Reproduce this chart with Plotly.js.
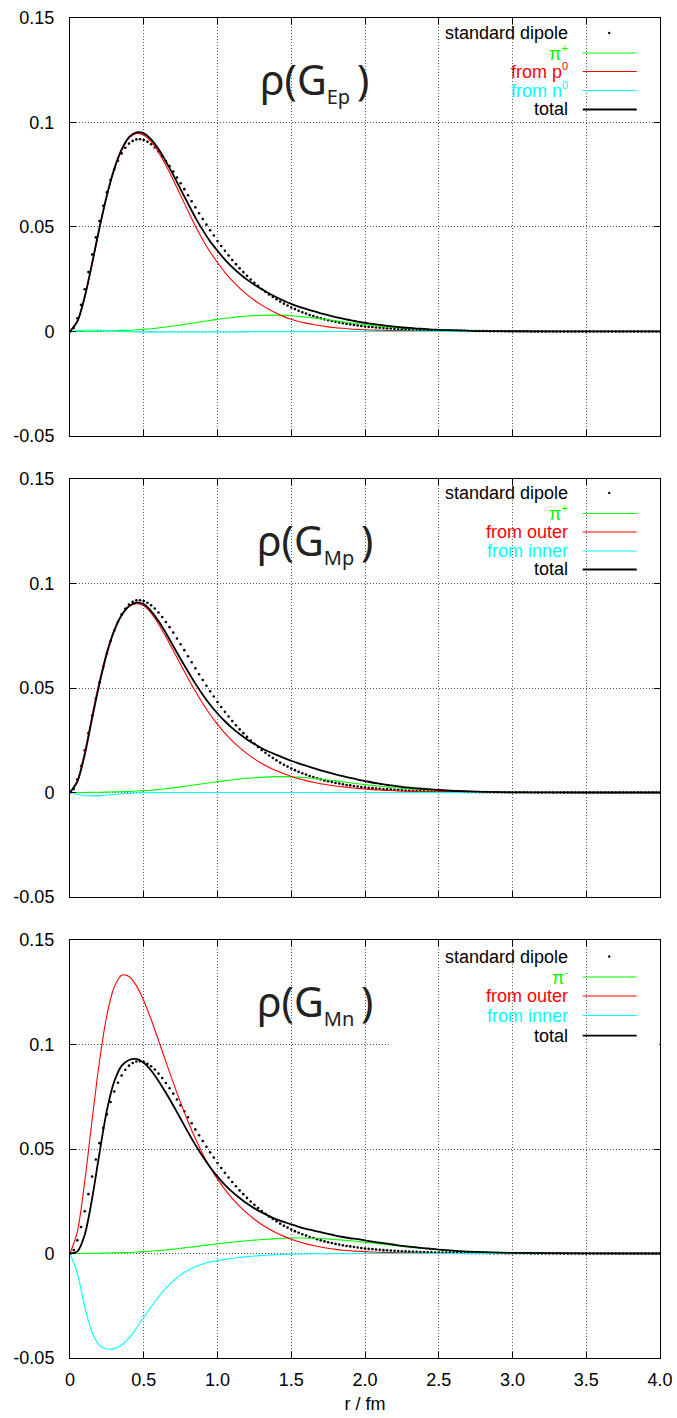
<!DOCTYPE html>
<html><head><meta charset="utf-8">
<script src="https://cdn.plot.ly/plotly-3.0.1.min.js"></script>
<style>body{margin:0;background:#fff}</style>
</head><body>
<div id="chart" style="width:677px;height:1418px"></div>
<script>
// ---------- data ----------
const rLine = [0,0.05,0.1,0.15,0.2,0.25,0.3,0.35,0.4,0.45,
  0.5,0.55,0.6,0.65,0.7,0.75,0.8,0.85,0.9,0.95,
  1.0,1.05,1.1,1.15,1.2,1.25,1.3,1.35,1.4,1.45,
  1.5,1.55,1.6,1.65,1.7,1.75,1.8,1.85,1.9,1.95,
  2.0,2.05,2.1,2.15,2.2,2.25,2.3,2.35,2.4,2.45,
  2.5,2.75,3.0,3.5,4.0];

const dotStep = 0.025; // r spacing of the standard-dipole points
const dipole = [0,0.0017,0.0063,0.0127,0.0202,0.0284,0.0368,0.0450,0.0528,0.0601,
  0.0666,0.0725,0.0775,0.0817,0.0852,0.0879,0.0899,0.0912,0.0919,0.0920,
  0.0916,0.0908,0.0896,0.0880,0.0861,0.0840,0.0816,0.0791,0.0765,0.0737,
  0.0709,0.0681,0.0652,0.0623,0.0594,0.0566,0.0538,0.0511,0.0484,0.0459,
  0.0433,0.0409,0.0386,0.0364,0.0342,0.0322,0.0302,0.0284,0.0266,0.0249,
  0.0233,0.0218,0.0203,0.0190,0.0177,0.0165,0.0154,0.0143,0.0133,0.0124,
  0.0115,0.0107,0.0099,0.0092,0.0086,0.0079,0.0074,0.0068,0.0063,0.0058,
  0.0054,0.0050,0.0046,0.0043,0.0039,0.0036,0.0034,0.0031,0.0029,0.0026,
  0.0024,0.0022,0.0021,0.0019,0.0018,0.0016,0.0015,0.0014,0.0013,0.0012,
  0.0011,0.0010,0.0009,0.0008,0.0008,0.0007,0.0007,0.0006,0.0006,0.0005,
  0.0005,0.0004,0.0004,0.0004,0.0003,0.0003,0.0003,0.0003,0.0002,0.0002,
  0.0002,0.0002,0.0002,0.0002,0.0001,0.0001,0.0001,0.0001,0.0001,0.0001,
  0.0001,0.0001,0.0001,0.0001,0.0001,0,0,0,0,0,
  0,0,0,0,0,0,0,0,0,0,
  0,0,0,0,0,0,0,0,0,0,
  0,0,0,0,0,0,0,0,0,0,
  0];

// Panel 1: G_Ep
const pionEp = [0,0,0.0001,0.0001,0.0002,0.0003,0.0004,0.0005,0.0006,0.0008,
  0.0010,0.0013,0.0017,0.0021,0.0026,0.0031,0.0037,0.0042,0.0048,0.0053,
  0.0058,0.0063,0.0067,0.0071,0.0074,0.0076,0.0077,0.0078,0.0078,0.0077,
  0.0075,0.0072,0.0069,0.0065,0.0061,0.0056,0.0051,0.0046,0.0042,0.0037,
  0.0033,0.0029,0.0025,0.0022,0.0019,0.0016,0.0014,0.0012,0.0010,0.0008,
  0.0007,0.0002,0.0001,0,0];
const outerEp = [0,0.0045,0.0160,0.0320,0.0490,0.0645,0.0772,0.0866,0.0925,0.0947,
  0.0940,0.0908,0.0858,0.0795,0.0725,0.0651,0.0577,0.0505,0.0439,0.0380,
  0.0330,0.0283,0.0243,0.0207,0.0176,0.0149,0.0126,0.0105,0.0087,0.0071,
  0.0058,0.0048,0.0040,0.0033,0.0027,0.0022,0.0018,0.0015,0.0012,0.0010,
  0.0008,0.0007,0.0006,0.0005,0.0004,0.0003,0.0003,0.0002,0.0002,0.0001,
  0.0001,0,0,0,0];
const innerEp = [0,0.0004,0.0006,0.0007,0.0006,0.0004,0.0002,0,-0.0001,-0.0002,
  -0.0002,-0.0002,-0.0002,-0.0002,-0.0002,-0.0002,-0.0002,-0.0002,-0.0002,-0.0002,
  -0.0002,-0.0002,-0.0002,-0.0002,-0.0002,-0.0001,-0.0001,-0.0001,-0.0001,-0.0001,
  -0.0001,-0.0001,-0.0001,-0.0001,-0.0001,0,0,0,0,0,
  0,0,0,0,0,0,0,0,0,0,
  0,0,0,0,0];
const totalEp = [0,0.0049,0.0167,0.0328,0.0498,0.0652,0.0778,0.0871,0.0930,0.0953,
  0.0948,0.0919,0.0873,0.0814,0.0749,0.0680,0.0612,0.0545,0.0485,0.0431,
  0.0386,0.0344,0.0308,0.0276,0.0248,0.0224,0.0202,0.0182,0.0164,0.0147,
  0.0132,0.0119,0.0108,0.0097,0.0087,0.0078,0.0069,0.0061,0.0054,0.0047,
  0.0041,0.0036,0.0031,0.0027,0.0023,0.0019,0.0017,0.0014,0.0012,0.0009,
  0.0008,0.0002,0.0001,0,0];

// Panel 2: G_Mp
const pionMp = [0,0,0,0.0001,0.0001,0.0002,0.0003,0.0004,0.0005,0.0007,
  0.0009,0.0011,0.0014,0.0018,0.0022,0.0027,0.0032,0.0037,0.0042,0.0047,
  0.0052,0.0057,0.0061,0.0065,0.0068,0.0071,0.0073,0.0075,0.0076,0.0076,
  0.0075,0.0073,0.0071,0.0068,0.0064,0.0060,0.0056,0.0051,0.0047,0.0042,
  0.0038,0.0034,0.0030,0.0026,0.0023,0.0020,0.0017,0.0015,0.0013,0.0011,
  0.0009,0.0003,0.0001,0,0];
const outerMp = [0,0.0060,0.0195,0.0370,0.0535,0.0675,0.0780,0.0850,0.0890,0.0903,
  0.0893,0.0858,0.0806,0.0745,0.0679,0.0612,0.0547,0.0484,0.0426,0.0373,
  0.0326,0.0284,0.0247,0.0215,0.0186,0.0161,0.0139,0.0120,0.0104,0.0090,
  0.0077,0.0066,0.0057,0.0049,0.0042,0.0036,0.0031,0.0027,0.0023,0.0020,
  0.0017,0.0014,0.0012,0.0010,0.0009,0.0007,0.0006,0.0005,0.0004,0.0004,
  0.0003,0.0001,0,0,0];
const innerMp = [0,-0.0008,-0.0014,-0.0016,-0.0015,-0.0012,-0.0009,-0.0006,-0.0004,-0.0002,
  -0.0001,-0.0001,0,0,0,0,0,0,0,0,
  0,0,0,0,0,0,0,0,0,0,
  0,0,0,0,0,0,0,0,0,0,
  0,0,0,0,0,0,0,0,0,0,
  0,0,0,0,0];
const totalMp = [0,0.0052,0.0181,0.0355,0.0521,0.0665,0.0774,0.0848,0.0891,0.0908,
  0.0901,0.0868,0.0820,0.0763,0.0701,0.0639,0.0579,0.0521,0.0468,0.0420,
  0.0378,0.0341,0.0308,0.0280,0.0254,0.0232,0.0212,0.0195,0.0180,0.0166,
  0.0152,0.0139,0.0128,0.0117,0.0106,0.0096,0.0087,0.0078,0.0070,0.0062,
  0.0055,0.0048,0.0042,0.0036,0.0032,0.0027,0.0023,0.0020,0.0017,0.0015,
  0.0012,0.0004,0.0001,0,0];

// Panel 3: G_Mn
const pionMn = [0,0,0,0.0001,0.0001,0.0002,0.0003,0.0004,0.0005,0.0007,
  0.0009,0.0011,0.0014,0.0017,0.0021,0.0025,0.0029,0.0033,0.0038,0.0042,
  0.0046,0.0050,0.0054,0.0058,0.0061,0.0064,0.0067,0.0069,0.0071,0.0073,
  0.0074,0.0074,0.0074,0.0073,0.0072,0.0070,0.0067,0.0064,0.0061,0.0058,
  0.0054,0.0050,0.0046,0.0042,0.0038,0.0034,0.0030,0.0027,0.0024,0.0021,
  0.0018,0.0008,0.0003,0.0001,0];
const outerMn = [0,0.0105,0.0345,0.0640,0.0920,0.1140,0.1275,0.1332,0.1326,0.1282,
  0.1210,0.1120,0.1020,0.0918,0.0818,0.0722,0.0632,0.0550,0.0476,0.0412,
  0.0356,0.0307,0.0264,0.0226,0.0193,0.0164,0.0139,0.0117,0.0098,0.0082,
  0.0068,0.0056,0.0046,0.0038,0.0031,0.0025,0.0020,0.0016,0.0013,0.0011,
  0.0009,0.0007,0.0006,0.0005,0.0004,0.0003,0.0003,0.0002,0.0002,0.0001,
  0.0001,0,0,0,0];
const innerMn = [0,-0.0095,-0.0255,-0.0378,-0.0440,-0.0457,-0.0455,-0.0438,-0.0405,-0.0358,
  -0.0306,-0.0255,-0.0208,-0.0166,-0.0131,-0.0102,-0.0080,-0.0063,-0.0050,-0.0041,
  -0.0034,-0.0028,-0.0023,-0.0018,-0.0015,-0.0012,-0.0009,-0.0007,-0.0006,-0.0004,
  -0.0003,-0.0002,-0.0002,-0.0001,-0.0001,-0.0001,-0.0001,-0.0001,-0.0001,0,
  0,0,0,0,0,0,0,0,0,0,
  0,0,0,0,0];
const totalMn = [0,0.0010,0.0090,0.0263,0.0481,0.0685,0.0823,0.0898,0.0926,0.0931,
  0.0913,0.0876,0.0826,0.0769,0.0708,0.0645,0.0581,0.0520,0.0464,0.0413,
  0.0368,0.0329,0.0295,0.0266,0.0239,0.0216,0.0197,0.0179,0.0163,0.0151,
  0.0139,0.0128,0.0118,0.0110,0.0102,0.0094,0.0086,0.0079,0.0073,0.0069,
  0.0063,0.0057,0.0052,0.0047,0.0042,0.0037,0.0033,0.0029,0.0026,0.0022,
  0.0019,0.0008,0.0003,0.0001,0];

const xTickVals = [0,0.5,1,1.5,2,2.5,3,3.5,4];
const xTickText = ['0','0.5','1.0','1.5','2.0','2.5','3.0','3.5','4.0'];
const yTickVals = [-0.05,0,0.05,0.1,0.15];
const yTickText = ['-0.05','0','0.05','0.1','0.15'];

const titlesText = ['ρ(G<sub><span style="font-size:20px">Ep</span></sub>\u2009)',
                    'ρ(G<sub><span style="font-size:20px">Mp</span></sub>\u2009)',
                    'ρ(G<sub><span style="font-size:20px">Mn</span></sub>\u2009)'];
const SUP = s => '<sup><span style="font-size:11px">' + s + '</span></sup>';
const legendLabels = [
  ['standard dipole','π' + SUP('+'),'from p' + SUP('0'),'from n' + SUP('0'),'total'],
  ['standard dipole','π' + SUP('+'),'from outer','from inner','total'],
  ['standard dipole','π' + SUP('-'),'from outer','from inner','total']
];
const seriesByPanel = [
  [pionEp, outerEp, innerEp, totalEp],
  [pionMp, outerMp, innerMp, totalMp],
  [pionMn, outerMn, innerMn, totalMn]
];

// ---------- styling / layout ----------
const colors = ['#00ff00','#ff0000','#00ffff','#000000'];
const widths = [1.1, 1.1, 1.1, 1.8];
const rDots = dipole.map((_, i) => +(i * dotStep).toFixed(3));
const FONT = 'Liberation Sans, Arial, sans-serif';
const axisIds = [['x','y'],['x2','y2'],['x3','y3']];
const domains = [[0.6881,1],[0.3440,0.6560],[0,0.3119]];
const legendOffsetsPx = [[15,35,53.5,72.5,91.5],[14,34.5,53,72,90.5],[16.5,37,56,75.5,95.5]];
const pxPerUnitY = 418/0.2;

const traces = [];
const shapes = [];
const annotations = [];
const layout = {
  width: 677, height: 1418,
  margin: {l: 70, r: 17, t: 18, b: 60},
  paper_bgcolor: '#fff', plot_bgcolor: '#fff',
  showlegend: false,
  font: {family: FONT, size: 18, color: '#000'}
};

axisIds.forEach(([xa, ya], p) => {
  traces.push({x: rDots, y: dipole, xaxis: xa, yaxis: ya, type: 'scatter', mode: 'markers',
    marker: {size: 2.6, color: '#000'}, hoverinfo: 'skip'});
  seriesByPanel[p].forEach((s, k) => {
    traces.push({x: rLine, y: s, xaxis: xa, yaxis: ya, type: 'scatter', mode: 'lines',
      line: {color: colors[k], width: widths[k], shape: 'spline', smoothing: 0.8}, hoverinfo: 'skip'});
  });
  const xKey = xa === 'x' ? 'xaxis' : 'xaxis' + xa.slice(1);
  const yKey = ya === 'y' ? 'yaxis' : 'yaxis' + ya.slice(1);
  const last = p === 2;
  layout[xKey] = {
    domain: [0,1], anchor: ya, range: [0,4], tickmode: 'array', tickvals: xTickVals, ticktext: xTickText,
    showticklabels: last, ticks: 'inside', ticklen: 6, tickcolor: '#000', mirror: 'ticks',
    showline: true, linecolor: '#000', linewidth: 1, showgrid: true, gridcolor: '#555',
    griddash: '1px,2px', gridwidth: 1, zeroline: false, ticklabelstandoff: 5,
    tickfont: {family: FONT, size: 18, color: '#000'}
  };
  if (last) layout[xKey].title = {text: 'r / fm', font: {family: FONT, size: 18, color: '#000'}, standoff: 8};
  layout[yKey] = {
    domain: domains[p], anchor: xa, range: [-0.05,0.15], tickmode: 'array', tickvals: yTickVals, ticktext: yTickText,
    ticks: 'inside', ticklen: 6, tickcolor: '#000', mirror: 'ticks', showline: true, linecolor: '#000', linewidth: 1,
    showgrid: true, gridcolor: '#555', griddash: '1px,2px', gridwidth: 1, zeroline: false, ticklabelstandoff: 11,
    tickfont: {family: FONT, size: 18, color: '#000'}
  };
  // title inside panel
  annotations.push({xref: xa, yref: ya, x: 1.66, y: 0.1203, text: titlesText[p], showarrow: false,
    xanchor: 'center', yanchor: 'middle', font: {family: 'Noto Sans, DejaVu Sans, sans-serif', size: 41, color: '#222'}});
  // gnuplot-style key: text right aligned, sample on the right
  const labelColors = ['#000','#00ff00','#ff0000','#00ffff','#000'];
  legendOffsetsPx[p].forEach((off, k) => {
    const yv = 0.15 - off / pxPerUnitY;
    annotations.push({xref: xa, yref: ya, x: 3.39, y: yv, text: legendLabels[p][k], showarrow: false,
      xanchor: 'right', yanchor: 'middle', font: {family: FONT, size: 18, color: labelColors[k]}});
    if (k === 0) {
      shapes.push({type: 'circle', xref: xa, yref: ya, xsizemode: 'pixel', ysizemode: 'pixel',
        xanchor: 3.656, yanchor: yv, x0: -1.2, x1: 1.2, y0: -1.2, y1: 1.2, fillcolor: '#000', line: {width: 0}});
    } else {
      shapes.push({type: 'line', xref: xa, yref: ya, x0: 3.476, x1: 3.842, y0: yv, y1: yv,
        line: {color: colors[k-1], width: widths[k-1]}});
    }
  });
});
// the 0.1 grid line of the lower panel is interrupted on the right in the original
shapes.push({type: 'line', xref: 'x3', yref: 'y3', x0: 2.17, x1: 3.995, y0: 0.1, y1: 0.1,
  line: {color: '#fff', width: 2}, layer: 'above'});

layout.shapes = shapes;
layout.annotations = annotations;

Plotly.newPlot('chart', traces, layout, {staticPlot: true, displayModeBar: false});
</script>
</body></html>
